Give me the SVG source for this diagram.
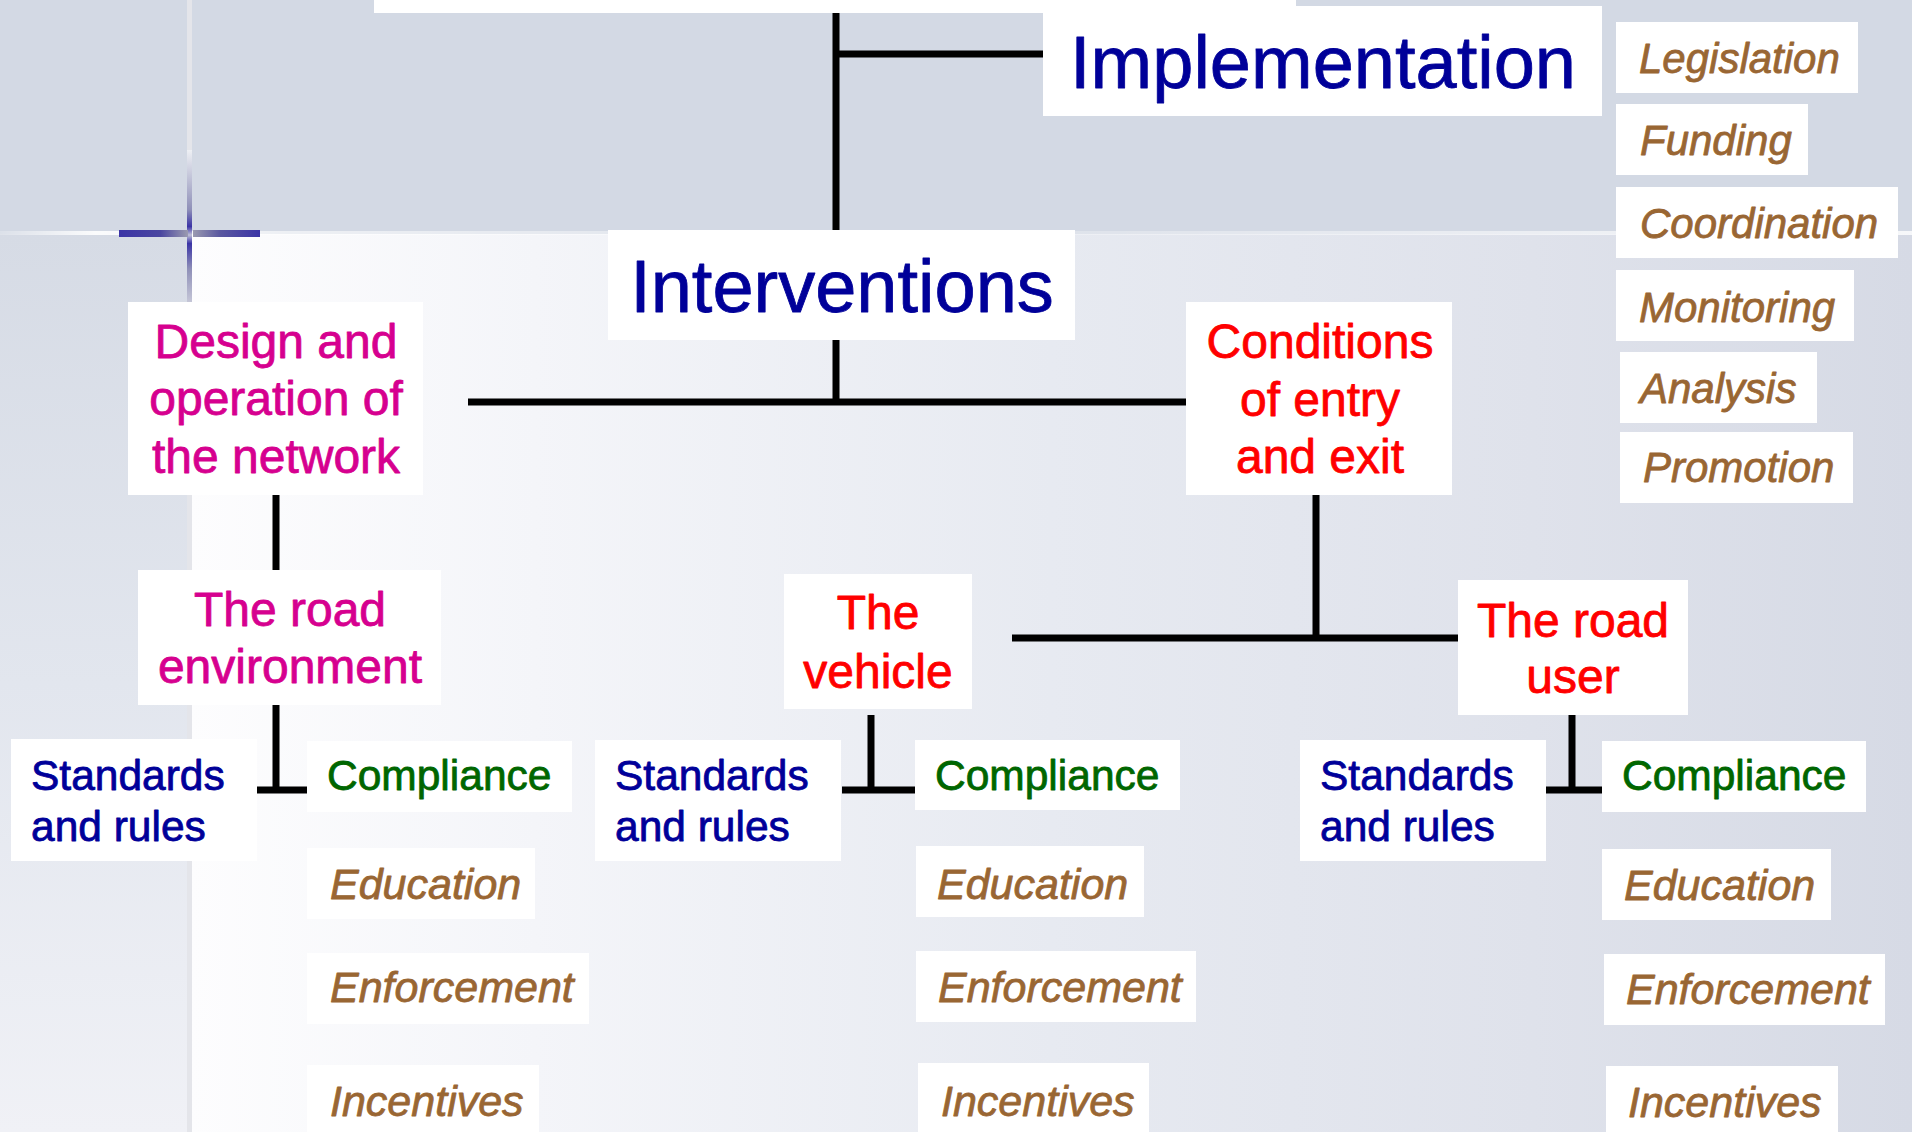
<svg xmlns="http://www.w3.org/2000/svg" width="1912" height="1132" viewBox="0 0 1912 1132">
  <defs>
    <linearGradient id="lowerBg" x1="190" y1="0" x2="1912" y2="0" gradientUnits="userSpaceOnUse">
      <stop offset="0" stop-color="#FDFDFE"/>
      <stop offset="0.2" stop-color="#F4F5F9"/>
      <stop offset="0.5" stop-color="#E7EAF1"/>
      <stop offset="0.78" stop-color="#DFE2EB"/>
      <stop offset="1" stop-color="#D6DAE5"/>
    </linearGradient>
    <linearGradient id="leftStrip" x1="0" y1="234" x2="0" y2="1132" gradientUnits="userSpaceOnUse">
      <stop offset="0" stop-color="#D6DBE5"/>
      <stop offset="0.5" stop-color="#E2E6EE"/>
      <stop offset="1" stop-color="#F0F1F6"/>
    </linearGradient>
    <linearGradient id="barL" x1="119" y1="0" x2="188" y2="0" gradientUnits="userSpaceOnUse">
      <stop offset="0" stop-color="#3B34A6"/>
      <stop offset="0.6" stop-color="#4A46A0"/>
      <stop offset="1" stop-color="#9A9AB0"/>
    </linearGradient>
    <linearGradient id="barR" x1="193" y1="0" x2="260" y2="0" gradientUnits="userSpaceOnUse">
      <stop offset="0" stop-color="#9A9AB0"/>
      <stop offset="0.4" stop-color="#5A58A0"/>
      <stop offset="1" stop-color="#3B34A6"/>
    </linearGradient>
    <linearGradient id="vline" x1="0" y1="150" x2="0" y2="320" gradientUnits="userSpaceOnUse">
      <stop offset="0" stop-color="#EEF0F4"/>
      <stop offset="0.35" stop-color="#8F90B8"/>
      <stop offset="0.45" stop-color="#3B34A6"/>
      <stop offset="0.5" stop-color="#C0C0D8"/>
      <stop offset="0.55" stop-color="#3B34A6"/>
      <stop offset="0.7" stop-color="#8F90B8"/>
      <stop offset="1" stop-color="#E2E3E8"/>
    </linearGradient>
    <linearGradient id="glow" x1="0" y1="0" x2="1912" y2="0" gradientUnits="userSpaceOnUse">
      <stop offset="0" stop-color="#FFFFFF" stop-opacity="0.2"/>
      <stop offset="0.05" stop-color="#FFFFFF" stop-opacity="0.9"/>
      <stop offset="0.15" stop-color="#FFFFFF" stop-opacity="0.6"/>
      <stop offset="0.5" stop-color="#FFFFFF" stop-opacity="0.2"/>
      <stop offset="1" stop-color="#FFFFFF" stop-opacity="0.8"/>
    </linearGradient>
  </defs>
  <style>
    .box { fill: #FFFFFF; }
    .t { font-family: "Liberation Sans", Arial, sans-serif; stroke-width: 0.8; stroke-linejoin: round; }
    .big { font-size: 74px; fill: #000099; stroke: #000099; text-anchor: middle; }
    .mag { font-size: 48px; fill: #D6008F; stroke: #D6008F; text-anchor: middle; }
    .red { font-size: 48px; fill: #FF0000; stroke: #FF0000; text-anchor: middle; }
    .std { font-size: 42.5px; fill: #000099; stroke: #000099; }
    .cmp { font-size: 42.5px; fill: #006600; stroke: #006600; }
    .it { font-size: 43px; fill: #996633; stroke: #996633; font-style: italic; }
    .it2 { font-size: 42px; fill: #996633; stroke: #996633; font-style: italic; }
    .conn line { stroke: #000000; stroke-width: 7; stroke-linecap: butt; }
  </style>

  <!-- background -->
  <g id="background">
    <rect x="0" y="0" width="1912" height="1132" fill="#D3D9E4"/>
    <rect x="190" y="234" width="1722" height="898" fill="url(#lowerBg)"/>
    <rect x="0" y="234" width="188" height="898" fill="url(#leftStrip)"/>
    <rect x="0" y="231" width="1912" height="4" fill="url(#glow)"/>
    <rect x="187" y="0" width="5" height="1132" fill="#E4E5EA"/>
    <rect x="187" y="150" width="5" height="170" fill="url(#vline)"/>
    <rect x="119" y="230" width="69" height="7" fill="url(#barL)"/>
    <rect x="193" y="230" width="67" height="7" fill="url(#barR)"/>
  </g>

  <!-- connectors -->
  <g id="connectors" class="conn">
    <line x1="836" y1="12" x2="836" y2="230"/>
    <line x1="836" y1="54" x2="1043" y2="54"/>
    <line x1="836" y1="340" x2="836" y2="402"/>
    <line x1="468" y1="402" x2="1186" y2="402"/>
    <line x1="276" y1="494" x2="276" y2="570"/>
    <line x1="276" y1="705" x2="276" y2="790"/>
    <line x1="257" y1="790" x2="307" y2="790"/>
    <line x1="1316" y1="495" x2="1316" y2="638"/>
    <line x1="1012" y1="638" x2="1458" y2="638"/>
    <line x1="871" y1="715" x2="871" y2="790"/>
    <line x1="842" y1="790" x2="915" y2="790"/>
    <line x1="1572" y1="715" x2="1572" y2="790"/>
    <line x1="1546" y1="790" x2="1602" y2="790"/>
  </g>

  <!-- top cut-off box -->
  <g id="top-box">
    <rect class="box" x="374" y="0" width="922" height="13"/>
  </g>

  <g id="implementation">
    <rect class="box" x="1043" y="6" width="559" height="110"/>
    <text class="t big" x="1323" y="88">Implementation</text>
  </g>

  <g id="legislation">
    <rect class="box" x="1616" y="22" width="242" height="71"/>
    <text class="t it2" x="1639" y="73">Legislation</text>
  </g>
  <g id="funding">
    <rect class="box" x="1616" y="104" width="192" height="71"/>
    <text class="t it2" x="1640" y="155">Funding</text>
  </g>
  <g id="coordination">
    <rect class="box" x="1616" y="187" width="282" height="71"/>
    <text class="t it2" x="1640" y="238">Coordination</text>
  </g>
  <g id="monitoring">
    <rect class="box" x="1616" y="270" width="238" height="71"/>
    <text class="t it2" x="1639" y="322">Monitoring</text>
  </g>
  <g id="analysis">
    <rect class="box" x="1620" y="352" width="197" height="71"/>
    <text class="t it2" x="1640" y="403">Analysis</text>
  </g>
  <g id="promotion">
    <rect class="box" x="1620" y="432" width="233" height="71"/>
    <text class="t it2" x="1643" y="482">Promotion</text>
  </g>

  <g id="interventions">
    <rect class="box" x="608" y="230" width="467" height="110"/>
    <text class="t big" x="842" y="312">Interventions</text>
  </g>

  <g id="design-operation">
    <rect class="box" x="128" y="302" width="295" height="193"/>
    <text class="t mag" x="276" y="358">Design and</text>
    <text class="t mag" x="276" y="415">operation of</text>
    <text class="t mag" x="276" y="473">the network</text>
  </g>

  <g id="conditions">
    <rect class="box" x="1186" y="302" width="266" height="193"/>
    <text class="t red" x="1320" y="358">Conditions</text>
    <text class="t red" x="1320" y="416">of entry</text>
    <text class="t red" x="1320" y="473">and exit</text>
  </g>

  <g id="road-environment">
    <rect class="box" x="138" y="570" width="303" height="135"/>
    <text class="t mag" x="290" y="626">The road</text>
    <text class="t mag" x="290" y="683">environment</text>
  </g>

  <g id="vehicle">
    <rect class="box" x="784" y="574" width="188" height="135"/>
    <text class="t red" x="878" y="629">The</text>
    <text class="t red" x="878" y="688">vehicle</text>
  </g>

  <g id="road-user">
    <rect class="box" x="1458" y="580" width="230" height="135"/>
    <text class="t red" x="1573" y="637">The road</text>
    <text class="t red" x="1573" y="693">user</text>
  </g>

  <!-- left column -->
  <g id="standards-left">
    <rect class="box" x="11" y="739" width="246" height="122"/>
    <text class="t std" x="31" y="790">Standards</text>
    <text class="t std" x="31" y="841">and rules</text>
  </g>
  <g id="compliance-left">
    <rect class="box" x="307" y="741" width="265" height="71"/>
    <text class="t cmp" x="327" y="790">Compliance</text>
  </g>
  <g id="education-left">
    <rect class="box" x="307" y="848" width="228" height="71"/>
    <text class="t it" x="330" y="899">Education</text>
  </g>
  <g id="enforcement-left">
    <rect class="box" x="307" y="953" width="282" height="71"/>
    <text class="t it" x="330" y="1002">Enforcement</text>
  </g>
  <g id="incentives-left">
    <rect class="box" x="307" y="1065" width="232" height="80"/>
    <text class="t it" x="330" y="1116">Incentives</text>
  </g>

  <!-- middle column -->
  <g id="standards-mid">
    <rect class="box" x="595" y="740" width="246" height="121"/>
    <text class="t std" x="615" y="790">Standards</text>
    <text class="t std" x="615" y="841">and rules</text>
  </g>
  <g id="compliance-mid">
    <rect class="box" x="915" y="740" width="265" height="70"/>
    <text class="t cmp" x="935" y="790">Compliance</text>
  </g>
  <g id="education-mid">
    <rect class="box" x="916" y="846" width="228" height="71"/>
    <text class="t it" x="937" y="899">Education</text>
  </g>
  <g id="enforcement-mid">
    <rect class="box" x="916" y="951" width="280" height="71"/>
    <text class="t it" x="938" y="1002">Enforcement</text>
  </g>
  <g id="incentives-mid">
    <rect class="box" x="918" y="1063" width="231" height="80"/>
    <text class="t it" x="941" y="1116">Incentives</text>
  </g>

  <!-- right column -->
  <g id="standards-right">
    <rect class="box" x="1300" y="740" width="246" height="121"/>
    <text class="t std" x="1320" y="790">Standards</text>
    <text class="t std" x="1320" y="841">and rules</text>
  </g>
  <g id="compliance-right">
    <rect class="box" x="1602" y="741" width="264" height="71"/>
    <text class="t cmp" x="1622" y="790">Compliance</text>
  </g>
  <g id="education-right">
    <rect class="box" x="1602" y="849" width="229" height="71"/>
    <text class="t it" x="1624" y="900">Education</text>
  </g>
  <g id="enforcement-right">
    <rect class="box" x="1604" y="954" width="281" height="71"/>
    <text class="t it" x="1626" y="1004">Enforcement</text>
  </g>
  <g id="incentives-right">
    <rect class="box" x="1606" y="1066" width="232" height="80"/>
    <text class="t it" x="1628" y="1117">Incentives</text>
  </g>
</svg>
